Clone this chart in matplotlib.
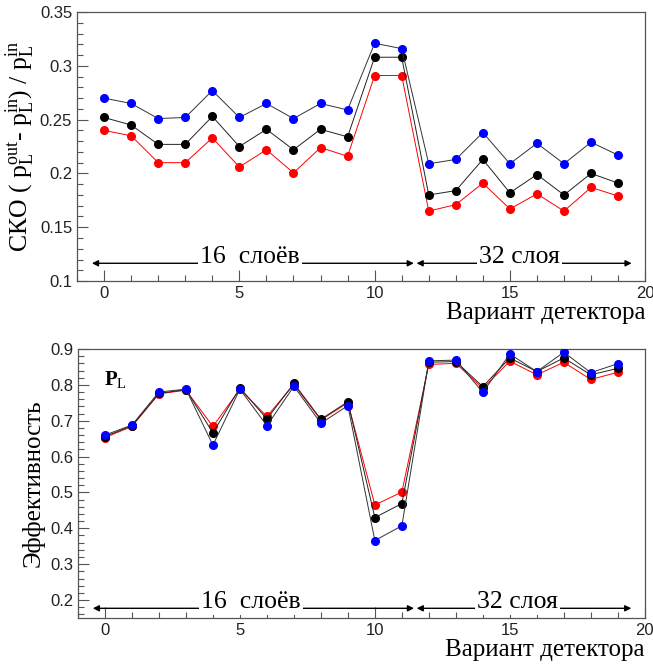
import matplotlib
matplotlib.use("Agg")
import matplotlib.pyplot as plt
from matplotlib.ticker import MultipleLocator, FormatStrFormatter

plt.rcParams["mathtext.fontset"] = "custom"
plt.rcParams["mathtext.rm"] = "Liberation Serif"
plt.rcParams["mathtext.it"] = "Liberation Serif:italic"
plt.rcParams["mathtext.bf"] = "Liberation Serif:bold"

variant = list(range(20))

# top panel: СКО
sko_blue = [0.270, 0.265, 0.251, 0.252, 0.277, 0.252, 0.265, 0.251, 0.265, 0.259,
            0.321, 0.316, 0.209, 0.213, 0.238, 0.209, 0.228, 0.209, 0.229, 0.217]
sko_black = [0.252, 0.245, 0.227, 0.227, 0.253, 0.225, 0.241, 0.222, 0.241, 0.234,
             0.308, 0.308, 0.180, 0.184, 0.213, 0.182, 0.199, 0.180, 0.200, 0.191]
sko_red = [0.240, 0.235, 0.210, 0.210, 0.233, 0.206, 0.222, 0.2005, 0.224, 0.216,
           0.291, 0.291, 0.165, 0.171, 0.191, 0.167, 0.181, 0.165, 0.187, 0.179]

# bottom panel: эффективность
eff_blue = [0.660, 0.688, 0.780, 0.788, 0.632, 0.788, 0.686, 0.796, 0.693, 0.742,
            0.366, 0.407, 0.867, 0.869, 0.779, 0.886, 0.837, 0.891, 0.834, 0.859]
eff_black = [0.656, 0.686, 0.776, 0.787, 0.666, 0.792, 0.705, 0.804, 0.704, 0.753,
             0.430, 0.469, 0.863, 0.865, 0.795, 0.875, 0.837, 0.875, 0.828, 0.846]
eff_red = [0.653, 0.684, 0.775, 0.785, 0.684, 0.788, 0.712, 0.801, 0.702, 0.750,
           0.465, 0.501, 0.857, 0.860, 0.790, 0.866, 0.828, 0.863, 0.815, 0.835]

SERIF = "Liberation Serif"
SANS = "Liberation Sans"
FRAME = "#555555"


def style_axes(ax, ymajor, yminor):
    ax.set_xlim(-1, 20)
    ax.xaxis.set_major_locator(MultipleLocator(5))
    ax.xaxis.set_minor_locator(MultipleLocator(1))
    ax.yaxis.set_major_locator(MultipleLocator(ymajor))
    ax.yaxis.set_minor_locator(MultipleLocator(yminor))
    ax.yaxis.set_major_formatter(FormatStrFormatter("%g"))
    ax.tick_params(which="both", direction="in", top=False, right=False, color=FRAME,
                   labelsize=12, labelcolor="#222222")
    ax.tick_params(which="major", length=8, width=0.8)
    ax.tick_params(which="minor", length=4, width=0.8)
    for lab in ax.get_xticklabels() + ax.get_yticklabels():
        lab.set_family(SANS)
    for s in ax.spines.values():
        s.set_color(FRAME)
        s.set_linewidth(0.9)


def draw_series(ax, red, black, blue):
    ax.plot(variant, red, color="red", lw=0.7, marker="o", ms=5.5, mec="red", mfc="red", zorder=3)
    ax.plot(variant, black, color="#222222", lw=0.7, marker="o", ms=5.5, mec="black", mfc="black", zorder=4)
    ax.plot(variant, blue, color="#333333", lw=0.7, marker="o", ms=5.5, mec="blue", mfc="blue", zorder=5)


def draw_layers(ax, y, x16, x32):
    arrow = dict(arrowstyle="<|-|>", color="black", lw=1.0, shrinkA=0, shrinkB=0,
                 mutation_scale=9)
    ax.annotate("", xy=(-0.45, y), xytext=(11.45, y), arrowprops=arrow, zorder=2)
    ax.annotate("", xy=(11.55, y), xytext=(19.5, y), arrowprops=arrow, zorder=2)
    ax.text(x16, y, "16  слоёв", family=SERIF, fontsize=18.5, ha="center", va="baseline",
            bbox=dict(facecolor="white", edgecolor="none", pad=1.5), zorder=6)
    ax.text(x32, y, "32 слоя", family=SERIF, fontsize=18.5, ha="center", va="baseline",
            bbox=dict(facecolor="white", edgecolor="none", pad=1.5), zorder=6)


fig = plt.figure(figsize=(6.53, 6.65), dpi=100)
ax1 = fig.add_axes([0.118, 0.5774, 0.870, 0.4045])
ax2 = fig.add_axes([0.1194, 0.0707, 0.868, 0.4045])

draw_series(ax1, sko_red, sko_black, sko_blue)
ax1.set_ylim(0.1, 0.35)
style_axes(ax1, 0.05, 0.01)
draw_layers(ax1, 0.1165, 5.4, 15.35)
ax1.set_ylabel(r"СКО ( $\mathregular{p_L^{out}}$- $\mathregular{p_L^{in}}$) / $\mathregular{p_L^{in}}$",
               family=SERIF, fontsize=18.5, labelpad=2)
ax1.text(1.0, -0.12, "Вариант детектора", transform=ax1.transAxes, family=SERIF,
         fontsize=18, ha="right", va="center")

draw_series(ax2, eff_red, eff_black, eff_blue)
ax2.set_ylim(0.15, 0.9)
style_axes(ax2, 0.1, 0.02)
draw_layers(ax2, 0.177, 5.4, 15.3)
ax2.set_ylabel("Эффективность", family=SERIF, fontsize=18, labelpad=4)
ax2.text(1.0, -0.12, "Вариант детектора", transform=ax2.transAxes, family=SERIF,
         fontsize=18, ha="right", va="center")
ax2.text(-0.05, 0.815, r"$\mathbf{P}_\mathrm{L}$", family=SERIF, fontsize=15,
         ha="left", va="center")

fig.savefig("out.png", dpi=100)
